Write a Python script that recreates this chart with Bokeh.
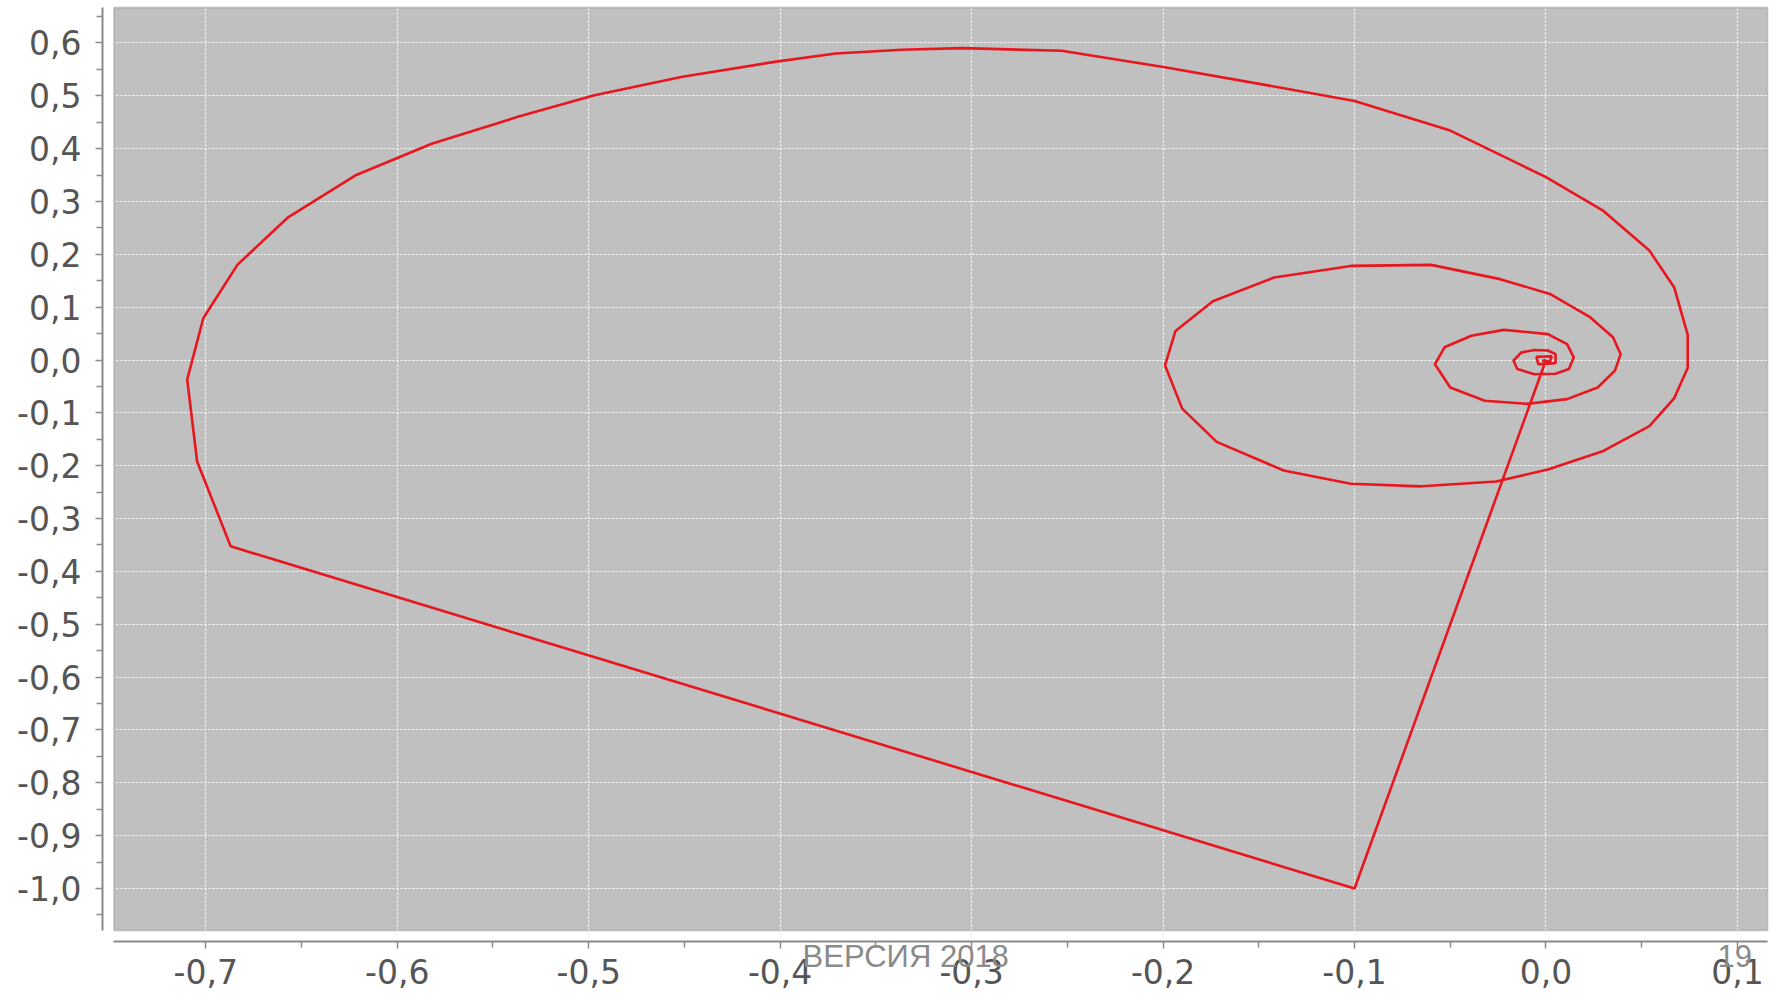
from bokeh.plotting import figure
from bokeh.models import Range1d, FixedTicker, BoxAnnotation, Label
from bokeh.embed import file_html
from bokeh.resources import INLINE

# ---- data ----
x_vals = [0.0, -0.1, -0.687, -0.7045, -0.7097, -0.7013, -0.6835, -0.657, -0.622, -0.582,
          -0.537, -0.497, -0.451, -0.403, -0.371, -0.3365, -0.305, -0.253, -0.199, -0.146,
          -0.100, -0.050, 0.000, 0.030, 0.054, 0.067, 0.074, 0.074, 0.067, 0.054,
          0.030, 0.001, -0.026, -0.065, -0.102, -0.137, -0.172, -0.190, -0.199, -0.1935,
          -0.174, -0.142, -0.102, -0.060, -0.024, 0.002, 0.023, 0.035, 0.039, 0.036,
          0.027, 0.011, -0.010, -0.032, -0.050, -0.058, -0.053, -0.039, -0.022, 0.001,
          0.011, 0.0145, 0.012, 0.005, -0.006, -0.015, -0.017, -0.013, -0.006, 0.001,
          0.005, 0.005, -0.004, -0.005, 0.003, 0.002, -0.002, 0.0]
y_vals = [0.0, -1.0, -0.3525, -0.192, -0.037, 0.079, 0.180, 0.270, 0.349, 0.409,
          0.460, 0.501, 0.536, 0.564, 0.580, 0.587, 0.590, 0.585, 0.554, 0.520,
          0.490, 0.434, 0.346, 0.282, 0.207, 0.137, 0.048, -0.015, -0.072, -0.125,
          -0.172, -0.207, -0.230, -0.239, -0.234, -0.209, -0.155, -0.092, -0.010, 0.055,
          0.111, 0.156, 0.178, 0.180, 0.153, 0.125, 0.081, 0.043, 0.011, -0.020,
          -0.052, -0.074, -0.083, -0.077, -0.052, -0.008, 0.024, 0.046, 0.057, 0.049,
          0.030, 0.005, -0.017, -0.026, -0.027, -0.017, -0.001, 0.014, 0.019, 0.018,
          0.011, -0.006, -0.008, 0.006, 0.007, -0.003, -0.002, 0.0]

x_ticks = [-0.7, -0.6, -0.5, -0.4, -0.3, -0.2, -0.1, 0.0, 0.1]
x_tick_labels = ["-0,7", "-0,6", "-0,5", "-0,4", "-0,3", "-0,2", "-0,1", "0,0", "0,1"]
y_ticks = [0.6, 0.5, 0.4, 0.3, 0.2, 0.1, 0.0, -0.1, -0.2, -0.3, -0.4, -0.5,
           -0.6, -0.7, -0.8, -0.9, -1.0]
y_tick_labels = ["0,6", "0,5", "0,4", "0,3", "0,2", "0,1", "0,0", "-0,1", "-0,2", "-0,3",
                 "-0,4", "-0,5", "-0,6", "-0,7", "-0,8", "-0,9", "-1,0"]
footer_left = "ВЕРСИЯ 2018"
footer_right = "19"

# ---- geometry: the frame covers the whole canvas, axes sit at fixed locations ----
X_START, X_END = -0.80721, 0.12196
Y_START, Y_END = -1.20043, 0.68015
AREA_X0, AREA_X1 = -0.74794, 0.11569
AREA_Y0, AREA_Y1 = -1.0794, 0.6669
AXIS_X_AT = -0.75394   # where the y axis is drawn
AXIS_Y_AT = -1.1002    # where the x axis is drawn
FOOTER_Y = -1.1285

p = figure(width=1779, height=994,
           x_range=Range1d(X_START, X_END), y_range=Range1d(Y_START, Y_END),
           output_backend="svg", toolbar_location=None,
           min_border_left=0, min_border_right=0,
           min_border_top=0, min_border_bottom=0,
           background_fill_color="white", border_fill_color="white",
           outline_line_color=None)

# gray plot area (lowest level so the grid is drawn on top)
p.add_layout(BoxAnnotation(left=AREA_X0, right=AREA_X1, bottom=AREA_Y0, top=AREA_Y1,
                           fill_color="#c0c0c0", fill_alpha=1, line_color=None,
                           level="image"))

# grids
for g in (p.xgrid, p.ygrid):
    g.grid_line_color = "white"
    g.grid_line_width = 1.2
    g.grid_line_dash = "2 2"
    g.grid_line_alpha = 0.95

p.line(x_vals, y_vals, line_color="#e8161e", line_width=2.6)

# plot-area outline
p.add_layout(BoxAnnotation(left=AREA_X0, right=AREA_X1, bottom=AREA_Y0, top=AREA_Y1,
                           fill_color=None, fill_alpha=0, line_color="#7c7c7c",
                           line_width=2, level="overlay"))

# axes
x_minor = [round(t + 0.05, 2) for t in x_ticks]
y_minor = [round(t - 0.05, 2) for t in y_ticks] + [0.65]
p.xaxis.ticker = FixedTicker(ticks=x_ticks, minor_ticks=x_minor)
p.yaxis.ticker = FixedTicker(ticks=y_ticks, minor_ticks=y_minor)
p.xaxis.major_label_overrides = dict(zip(x_ticks, x_tick_labels))
p.yaxis.major_label_overrides = dict(zip(y_ticks, y_tick_labels))
p.xaxis.bounds = (AREA_X0, AREA_X1)
p.yaxis.bounds = (AREA_Y0, AREA_Y1)
p.xaxis.fixed_location = AXIS_Y_AT
p.yaxis.fixed_location = AXIS_X_AT

for ax in (p.xaxis, p.yaxis):
    ax.axis_line_color = "#8a8a8a"
    ax.axis_line_width = 2
    ax.major_tick_line_color = "#8a8a8a"
    ax.minor_tick_line_color = "#8a8a8a"
    ax.major_tick_line_width = 1.5
    ax.minor_tick_line_width = 1.5
    ax.major_tick_in = 0
    ax.major_tick_out = 7
    ax.minor_tick_in = 0
    ax.minor_tick_out = 6
    ax.major_label_text_font = "DejaVu Sans"
    ax.major_label_text_font_size = "33px"
    ax.major_label_text_color = "#555555"
p.xaxis.major_label_standoff = 10
p.yaxis.major_label_standoff = 14

# footer texts
p.add_layout(Label(x=-0.3883, y=FOOTER_Y, text=footer_left, text_font="Liberation Sans",
                   text_font_size="31px", text_color="#8a8a8a",
                   text_baseline="alphabetic", text_align="left"))
p.add_layout(Label(x=0.0896, y=FOOTER_Y, text=footer_right, text_font="Liberation Sans",
                   text_font_size="31px", text_color="#8a8a8a",
                   text_baseline="alphabetic", text_align="left"))

open("out.html", "w").write(file_html(p, INLINE))
